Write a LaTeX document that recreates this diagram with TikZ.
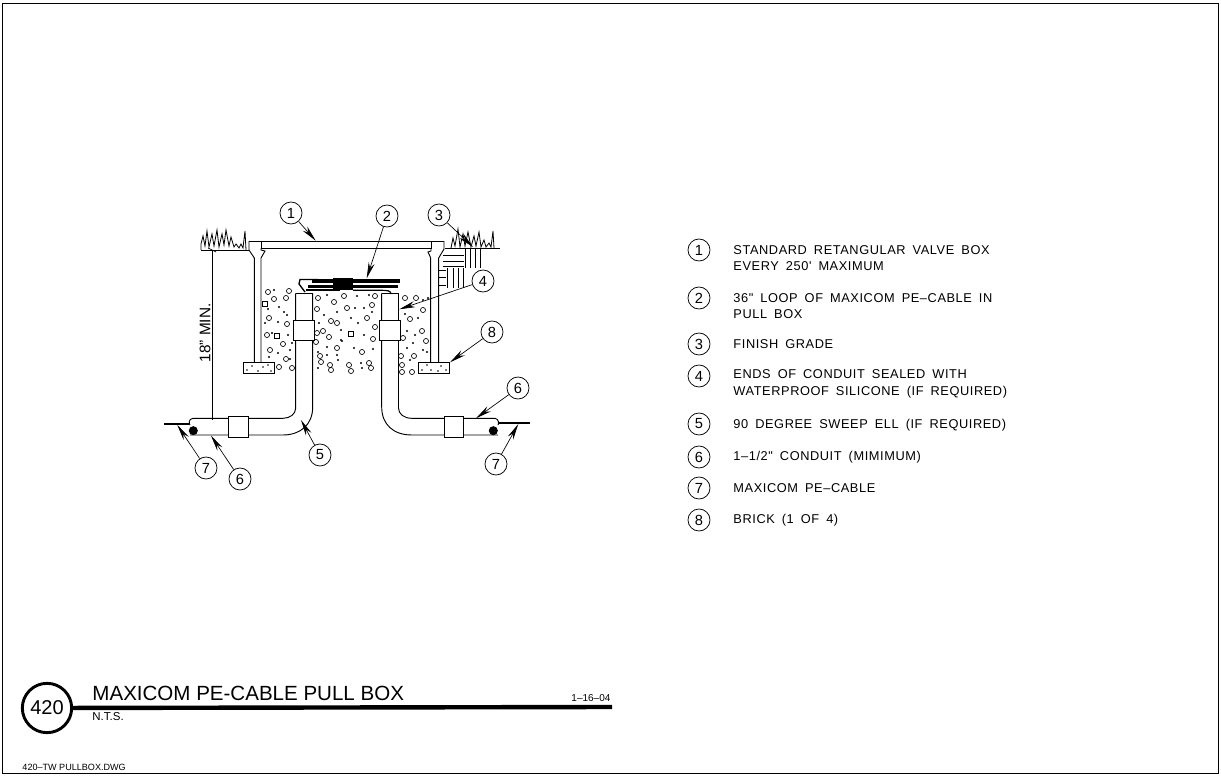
\documentclass[tikz,border=0pt]{standalone}
\usepackage{fontspec}
\setmainfont{Liberation Sans}
\newfontfamily\notefont[LetterSpace=4.5,WordSpace=1.7]{Liberation Sans}
\usetikzlibrary{arrows.meta}
\begin{document}
\begin{tikzpicture}
    [x=0.75pt, y=-0.75pt, line width=0.7pt,
    balloon/.style={draw, circle, minimum size=16.5pt, inner sep=0pt, line width=0.55pt, font=\fontsize{11}{11}\selectfont},
    leader/.style={line width=0.5pt, -{Stealth[length=12pt,width=4.6pt]}},
    noteline/.style={anchor=west, align=left, inner sep=0pt, font=\fontsize{9.6}{12.4}\notefont},
    smalltext/.style={anchor=west, inner sep=0pt},
    pebble/.style={line width=0.5pt},
    hatchline/.style={line width=0.5pt},
    grass/.style={line width=0.6pt}]
    \useasboundingbox (0,0) rectangle (1221,777);
    \draw[line width=0.7pt] (2,3) rectangle (1218,773);
    % ground and grass
    \draw (201,250) -- (249,250);
    \draw (445,248.5) -- (500,248.5);
    \draw[grass] (201,250) -- (201,244) -- (203,236) -- (205,246) -- (207,231) -- (209,247) -- (212,234) -- (214,246) -- (217,230) -- (219,247) -- (222,234) -- (224,245) -- (226,230) -- (229,246) -- (231,237) -- (234,247) -- (236,244) -- (239,248) -- (241,244) -- (243,248) -- (245,231) -- (246,250);
    \draw[grass] (451,248) -- (453,238) -- (455,246) -- (458,229) -- (460,247) -- (463,234) -- (465,246) -- (468,232) -- (471,247) -- (474,236) -- (476,246) -- (479,232) -- (481,247) -- (484,240) -- (486,247) -- (489,243) -- (491,247) -- (493,231) -- (494,248);
    \foreach \y in {255.7,261,266.7} \draw[hatchline] (443,\y) -- (464,\y);
    \foreach \x in {465,470,475,480} \draw[hatchline] (\x,249) -- (\x,268);
    \foreach \y in {270,277,285} \draw[hatchline] (439,\y) -- (446,\y);
    \foreach \x in {447,453,458,463} \draw[hatchline] (\x,268) -- (\x,288);
    % valve box
    \draw (261,241.5) rectangle (431,248.5);
    \draw (261,241.5) -- (249,241.5) -- (249,250) -- (254.3,258) -- (254.3,362);
    \draw (261,248.5) -- (261,250) -- (265,251) -- (261,258) -- (261,362);
    \draw (431,241.5) -- (444,241.5) -- (444,249) -- (438.7,258) -- (438.7,362);
    \draw (431,248.5) -- (431,251) -- (428,252) -- (430.7,258) -- (430.7,362);
    \draw (243.3,362.3) rectangle (274.3,373.3);
    \draw (418.3,362.3) rectangle (449.3,373.3);
    \foreach \x/\y in {247/370,252/366,258/371,263/367,268/365,271/371,422/370,427/365,431/370,438/371,441/366,446/370}
        \fill (\x,\y) circle (0.6pt);
    % gravel
    \foreach \x/\y in {268/292,274/299,289/291,286/298,269/318,287/324,267/335,283/344,270/350,286/359,279/367,292/368,
        318/298,317/309,331/321,337/323,317/333,323/331,316/342,329/337,337/348,320/356,321/362,330/365,331/370,
        344/296,347/308,334/302,375/296,372/305,367/318,375/327,373/339,362/352,349/365,351/371,369/363,371/368,
        405/298,416/298,423/310,410/319,422/331,426/341,414/356,403/338,401/356,402/365,402/372,412/372}
        \draw[pebble] (\x,\y) circle (1.9pt);
    \foreach \x/\y in {277/336,265/304,351/334}
        \draw[pebble] (\x-2.5,\y-2.5) rectangle (\x+2.5,\y+2.5);
    \foreach \x/\y in {274/290,268/309,279/307,284/312,287/315,265/323,278/322,272/333,288/335,292/343,290/350,278/353,269/357,290/359,
        319/323,327/295,337/312,324/315,341/330,341/340,327/347,327/355,337/355,338/360,318/368,318/352,
        357/296,369/295,355/308,364/308,372/312,351/318,358/323,364/335,342/341,354/348,373/349,361/363,362/368,
        418/318,405/314,407/331,413/343,407/348,423/350,427/352,410/360,415/335,423/300,428/298}
        \fill (\x,\y) circle (0.9pt);
    % dimension
    \draw[line width=0.5pt] (212.3,250) -- (212.3,420);
    \draw[line width=0.5pt] (208,248) -- (216,252);
    \node[rotate=90, font=\fontsize{11.5}{11.5}\selectfont, inner sep=0pt] (dim) at (205,333) {18" MIN.};
    % conduits
    \draw (295.7,293.3) -- (312.7,293.3);
    \draw (295.7,293.3) -- (295.7,408) .. controls (295.7,414) and (290,418.3) .. (283,418.3) -- (193,418.3) .. controls (188,419) and (189,424) .. (190,425);
    \draw (312.7,293.3) -- (312.7,407) .. controls (312.7,425) and (300,435) .. (283,435) -- (190,435);
    \draw (381.7,293.3) -- (398.5,293.3);
    \draw (398.5,293.3) -- (398.5,408) .. controls (398.5,414) and (404,418.3) .. (411.7,418.3) -- (495,418.3) .. controls (499,419) and (499,424) .. (498,425);
    \draw (381.7,293.3) -- (381.7,407) .. controls (381.7,425) and (394,435) .. (411.7,435) -- (498,435);
    \draw[fill=white] (293.3,320) rectangle (314.7,340);
    \draw[fill=white] (379.3,320) rectangle (400.7,340);
    \draw[fill=white] (228.7,416.7) rectangle (248.7,437.3);
    \draw[fill=white] (444.3,416.7) rectangle (463.7,437.3);
    % cable
    \draw[line width=1.6pt] (164,424.3) -- (189,424.3);
    \draw[line width=1.6pt] (498.3,423.3) -- (530,423.3);
    \fill (193.3,430.7) circle (3.4pt);
    \fill (493.3,430.7) circle (3.4pt);
    \draw[line width=3.4pt] (312,281) -- (400,281);
    \draw[line width=2.4pt] (308,286.8) -- (398,286.8);
    \fill (333,278) rectangle (353,290);
    \draw[line width=1pt] (306,289.9) -- (340,289.9);
    \draw[line width=0.9pt] (353,290.3) -- (380,290.3) .. controls (387,290.3) and (391,290.5) .. (391,294);
    \draw[line width=1pt] (318,279.5) -- (300,279.5) -- (299,284) -- (305,292);
    % callouts
    \node[balloon] (b1) at (291,213) {1};
    \node[balloon] (b2) at (387,216) {2};
    \node[balloon] (b3) at (439,215) {3};
    \node[balloon] (b4) at (483,281) {4};
    \node[balloon] (b8) at (492,332) {8};
    \node[balloon] (b6r) at (518,388) {6};
    \node[balloon] (b5) at (320,455) {5};
    \node[balloon] (b6l) at (240,479) {6};
    \node[balloon] (b7l) at (206,468) {7};
    \node[balloon] (b7r) at (496,464) {7};
    \coordinate (lid) at (315.7,240.7);
    \coordinate (loop) at (366.7,278.3);
    \coordinate (grade) at (473,247);
    \coordinate (seal) at (399.3,309.3);
    \coordinate (brick) at (450,362.3);
    \coordinate (condr) at (476,418.3);
    \coordinate (ell) at (301,420);
    \coordinate (condl) at (211,435.7);
    \coordinate (cabl) at (177.3,425);
    \coordinate (cabr) at (518.3,424);
    \draw[leader] (b1) -- (lid);
    \draw[leader] (b2) -- (loop);
    \draw[leader] (b3) -- (grade);
    \draw[leader] (b4) -- (seal);
    \draw[leader] (b8) -- (brick);
    \draw[leader] (b6r) -- (condr);
    \draw[leader] (b5) -- (ell);
    \draw[leader] (b6l) -- (condl);
    \draw[leader] (b7l) -- (cabl);
    \draw[leader] (b7r) -- (cabr);
    % notes
    \node[balloon] (n1) at (699,250) {1};
    \node[balloon] (n2) at (699,298) {2};
    \node[balloon] (n3) at (699,344) {3};
    \node[balloon] (n4) at (699,376) {4};
    \node[balloon] (n5) at (699,424) {5};
    \node[balloon] (n6) at (699,457) {6};
    \node[balloon] (n7) at (699,488) {7};
    \node[balloon] (n8) at (699,520) {8};
    \node[noteline] (t1) at (733,258) {STANDARD RETANGULAR VALVE BOX\\EVERY 250' MAXIMUM};
    \node[noteline] (t2) at (733,306) {36" LOOP OF MAXICOM PE–CABLE IN\\PULL BOX};
    \node[noteline] (t3) at (733,344) {FINISH GRADE};
    \node[noteline] (t4) at (733,384) {ENDS OF CONDUIT SEALED WITH\\WATERPROOF SILICONE (IF REQUIRED)};
    \node[noteline] (t5) at (733,425) {90 DEGREE SWEEP ELL (IF REQUIRED)};
    \node[noteline] (t6) at (733,457.5) {1–1/2" CONDUIT (MIMIMUM)};
    \node[noteline] (t7) at (733,488.5) {MAXICOM PE–CABLE};
    \node[noteline] (t8) at (733,520) {BRICK (1 OF 4)};
    % title block
    \node[draw, circle, line width=2.2pt, minimum size=37pt, inner sep=0pt, font=\fontsize{15}{15}\selectfont] (num) at (47,708) {420};
    \draw[line width=3.3pt] (num) -- (612,707);
    \node[smalltext, font=\fontsize{15.4}{15.4}\selectfont] (title) at (92,693) {MAXICOM PE-CABLE PULL BOX};
    \node[smalltext, font=\fontsize{8.6}{8.6}\selectfont] (nts) at (92,717) {N.T.S.};
    \node[smalltext, font=\fontsize{7.5}{7.5}\selectfont] (date) at (571,698) {1–16–04};
    \node[smalltext, font=\fontsize{6.8}{6.8}\selectfont] (dwg) at (22,767) {420–TW PULLBOX.DWG};
\end{tikzpicture}
\end{document}
